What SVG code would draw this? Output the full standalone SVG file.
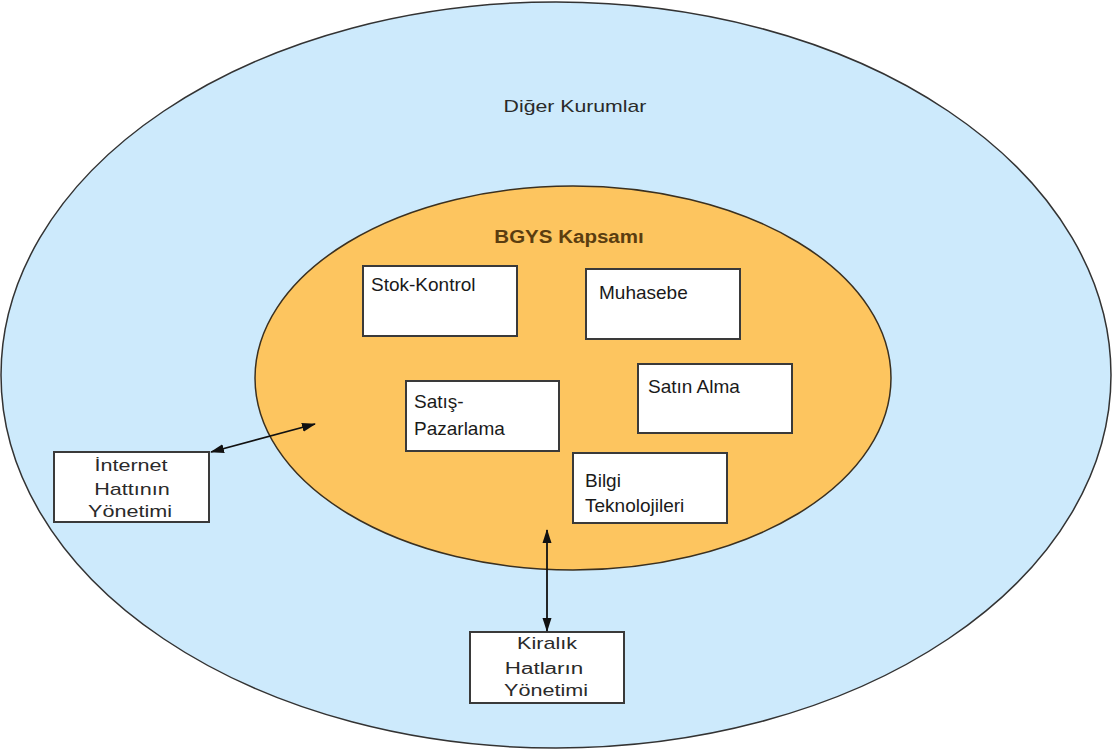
<svg xmlns="http://www.w3.org/2000/svg" width="1113" height="756" viewBox="0 0 1113 756">
<style>
.box{fill:#ffffff;stroke:#3a3a3a;stroke-width:2}
.t{font-family:"Liberation Sans",Arial,sans-serif;font-size:19px;fill:#1a1a1a}
.s{font-family:"Liberation Sans",Arial,sans-serif;font-size:16px;fill:#2a2a2a;text-anchor:middle}
.lk{stroke:#111;stroke-width:1.8;fill:none;marker-start:url(#ah);marker-end:url(#ah)}
</style>
<defs>
<marker id="ah" viewBox="0 0 14 10" refX="13" refY="5" markerWidth="14" markerHeight="10" markerUnits="userSpaceOnUse" orient="auto-start-reverse">
<path d="M0,0.5 L14,5 L0,9.5 Z" fill="#111"/>
</marker>
</defs>
<rect width="1113" height="756" fill="#ffffff"/>
<g id="diger-kurumlar">
<ellipse cx="556" cy="375" rx="555" ry="373" fill="#cdeafc" stroke="#333" stroke-width="1.5"/>
<text transform="translate(575,112) scale(1.25,1)" font-family="Liberation Sans, Arial, sans-serif" font-size="17" fill="#2a2a2a" text-anchor="middle">Diğer Kurumlar</text>
</g>
<g id="bgys-kapsami">
<ellipse cx="573" cy="378" rx="318" ry="192" fill="#fdc55f" stroke="#3a3020" stroke-width="1.5"/>
<text transform="translate(569,243) scale(1.08,1)" text-anchor="middle" font-family="Liberation Sans, Arial, sans-serif" font-size="19" font-weight="bold" fill="#5a3d10">BGYS Kapsamı</text>
</g>
<g id="stok-kontrol">
<rect class="box" x="363" y="266" width="154" height="70"/>
<text class="t" x="371" y="291">Stok-Kontrol</text>
</g>
<g id="muhasebe">
<rect class="box" x="586" y="269" width="154" height="70"/>
<text class="t" x="599" y="299">Muhasebe</text>
</g>
<g id="satis-pazarlama">
<rect class="box" x="406" y="381" width="153" height="70"/>
<text class="t" x="414" y="408">Satış-</text>
<text class="t" x="414" y="435">Pazarlama</text>
</g>
<g id="satin-alma">
<rect class="box" x="638" y="364" width="154" height="69"/>
<text class="t" x="648" y="393">Satın Alma</text>
</g>
<g id="bilgi-teknolojileri">
<rect class="box" x="573" y="453" width="154" height="70"/>
<text class="t" x="585" y="487">Bilgi</text>
<text class="t" x="585" y="512">Teknolojileri</text>
</g>
<g id="internet-hatti">
<rect class="box" x="54" y="452" width="155" height="70"/>
<text class="s" transform="translate(131,471) scale(1.35,1)">İnternet</text>
<text class="s" transform="translate(132,495) scale(1.35,1)">Hattının</text>
<text class="s" transform="translate(130,517) scale(1.35,1)">Yönetimi</text>
</g>
<g id="kiralik-hatlar">
<rect class="box" x="470" y="632" width="154" height="71"/>
<text class="s" transform="translate(547,649) scale(1.35,1)">Kiralık</text>
<text class="s" transform="translate(544,674) scale(1.4,1)">Hatların</text>
<text class="s" transform="translate(546,696) scale(1.35,1)">Yönetimi</text>
</g>
<g id="connectors">
<line class="lk" x1="211" y1="452" x2="315" y2="424"/>
<line class="lk" x1="547" y1="530" x2="547" y2="631"/>
</g>
</svg>
